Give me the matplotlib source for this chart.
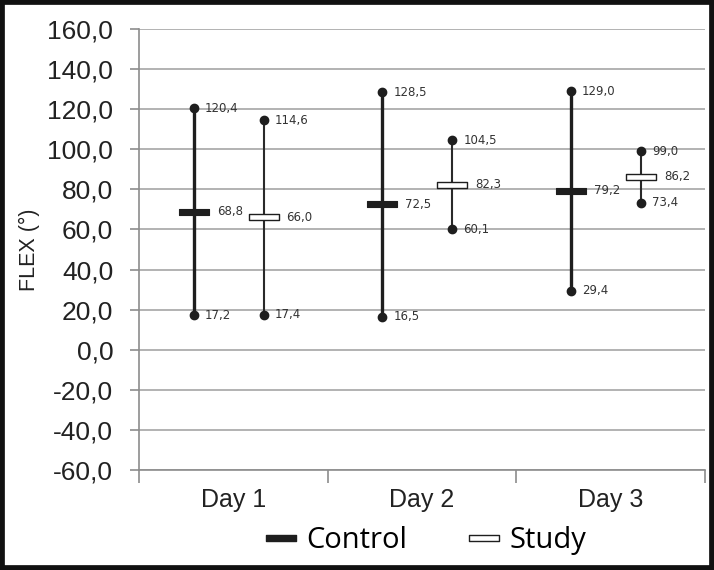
import numpy as np
import matplotlib.pyplot as plt
from matplotlib.path import Path
from matplotlib.patches import Rectangle
from matplotlib.lines import Line2D

# Data
days = ['Day 1', 'Day 2', 'Day 3']
control_mean = [68.8, 72.5, 79.2]
control_min = [17.2, 16.5, 29.4]
control_max = [120.4, 128.5, 129.0]
study_mean = [66.0, 82.3, 86.2]
study_min = [17.4, 60.1, 73.4]
study_max = [114.6, 104.5, 99.0]

def fmt(v):
    return f'{v:.1f}'.replace('.', ',')

# wide flat rectangle marker for the mean
bar_marker = Path([(-1, -0.22), (1, -0.22), (1, 0.22), (-1, 0.22), (-1, -0.22)],
                  [Path.MOVETO, Path.LINETO, Path.LINETO, Path.LINETO, Path.CLOSEPOLY])

fig = plt.figure(figsize=(7.14, 5.70), dpi=100)
ax = fig.add_axes([0.1947, 0.1754, 0.7927, 0.7737])

x = np.arange(len(days))
xc = x - 0.21
xs = x + 0.16
dark = '#1e1e1e'
lab = '#333333'

# control series
ax.vlines(xc, control_min, control_max, color=dark, lw=2.4, zorder=3)
ax.plot(xc, control_min, 'o', color=dark, ms=6, zorder=4)
ax.plot(xc, control_max, 'o', color=dark, ms=6, zorder=4)
ax.plot(xc, control_mean, ls='none', marker=bar_marker, ms=21, color=dark,
        mec=dark, mew=0.8, zorder=5)

# study series
ax.vlines(xs, study_min, study_max, color='#2a2a2a', lw=1.5, zorder=3)
ax.plot(xs, study_min, 'o', color=dark, ms=6, zorder=4)
ax.plot(xs, study_max, 'o', color=dark, ms=6, zorder=4)
ax.plot(xs, study_mean, ls='none', marker=bar_marker, ms=21, mfc='white',
        mec=dark, mew=1.0, zorder=5)

# data labels
for xp, lo, hi, m in zip(xc, control_min, control_max, control_mean):
    for v in (lo, hi):
        ax.annotate(fmt(v), (xp, v), xytext=(8, 0), textcoords='offset points',
                    va='center', fontsize=8.5, color=lab)
    ax.annotate(fmt(m), (xp, m), xytext=(16.5, 0), textcoords='offset points',
                va='center', fontsize=8.5, color=lab)
for xp, lo, hi, m in zip(xs, study_min, study_max, study_mean):
    for v in (lo, hi):
        ax.annotate(fmt(v), (xp, v), xytext=(8, 0), textcoords='offset points',
                    va='center', fontsize=8.5, color=lab)
    ax.annotate(fmt(m), (xp, m), xytext=(16.5, 0), textcoords='offset points',
                va='center', fontsize=8.5, color=lab)

# axes styling
ax.set_xlim(-0.5, 2.5)
ax.set_ylim(-60, 160)
yt = np.arange(-60, 161, 20)
ax.set_yticks(yt)
ax.set_yticklabels([fmt(v) for v in yt], family='Liberation Sans', color='#222222')
ax.yaxis.grid(True, color='#a6a6a6', lw=1.2)
ax.set_axisbelow(True)
ax.tick_params(axis='y', length=6.5, color='#8c8c8c', width=1.2, pad=12, labelsize=19)

ax.set_xticks(x)
ax.set_xticklabels(days, family='Liberation Sans', color='#222222')
ax.set_xticks([-0.5, 0.5, 1.5, 2.5], minor=True)
ax.tick_params(axis='x', which='major', length=0, pad=13, labelsize=18)
ax.tick_params(axis='x', which='minor', length=9, color='#8c8c8c', width=1.2)

for s in ('top', 'right'):
    ax.spines[s].set_visible(False)
for s in ('left', 'bottom'):
    ax.spines[s].set_color('#8c8c8c')
    ax.spines[s].set_linewidth(1.2)

ax.set_ylabel('FLEX (°)', fontsize=15.5, family='Liberation Sans', color='#222222', labelpad=5)

# legend
handles = [Line2D([], [], ls='none', marker=bar_marker, ms=22, color=dark, mec=dark),
           Line2D([], [], ls='none', marker=bar_marker, ms=21, mfc='white', mec=dark, mew=1.0)]
fig.legend(handles, ['Control', 'Study'], loc='center', bbox_to_anchor=(0.594, 0.052),
           ncol=2, frameon=False, prop={'family': 'Open Sans', 'size': 21},
           handlelength=1.3, columnspacing=2.0, handletextpad=0.2)

# black border round the figure
fig.patches.append(Rectangle((0, 0), 1, 1, transform=fig.transFigure, fill=False,
                             edgecolor='#111111', lw=7))

fig.savefig('out.png', dpi=100)
